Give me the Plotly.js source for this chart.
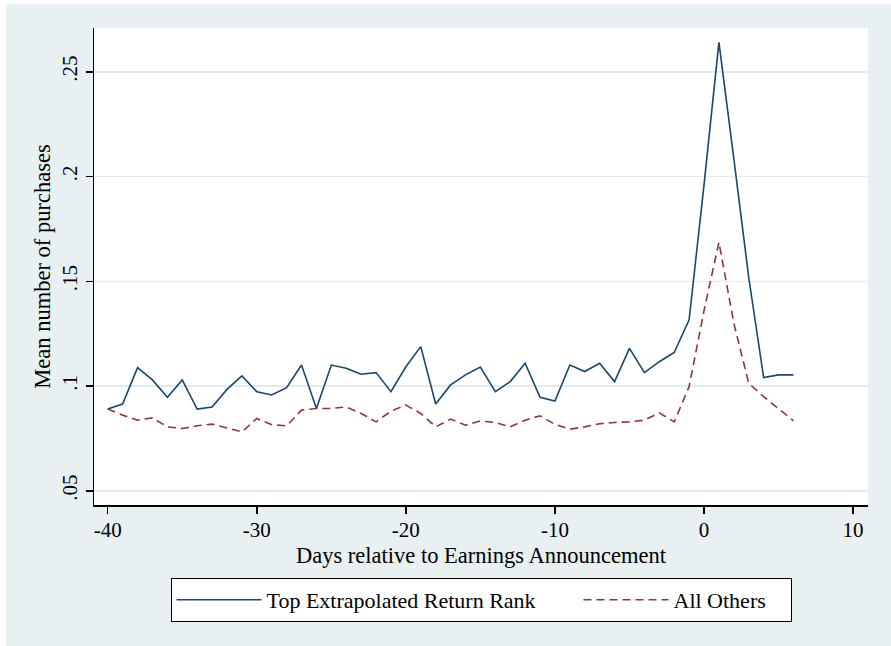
<!DOCTYPE html>
<html>
<head>
<meta charset="utf-8">
<script src="https://cdn.plot.ly/plotly-3.0.1.min.js"></script>
<style>
  html, body { margin: 0; padding: 0; background: #ffffff; }
  #chart { width: 891px; height: 646px; }
</style>
</head>
<body>
<div id="chart"></div>
<script>
const days = [-40,-39,-38,-37,-36,-35,-34,-33,-32,-31,-30,-29,-28,-27,-26,-25,-24,-23,-22,-21,-20,-19,-18,-17,-16,-15,-14,-13,-12,-11,-10,-9,-8,-7,-6,-5,-4,-3,-2,-1,0,1,2,3,4,5,6];

const topRank = [0.0890,0.0914,0.1088,0.1029,0.0946,0.1029,0.0890,0.0900,0.0984,0.1048,
                 0.0973,0.0957,0.0992,0.1100,0.0893,0.1100,0.1085,0.1056,0.1064,0.0973,
                 0.1092,0.1188,0.0914,0.1005,0.1053,0.1090,0.0973,0.1021,0.1109,0.0946,
                 0.0928,0.1100,0.1069,0.1109,0.1021,0.1180,0.1064,0.1116,0.1160,0.1316,
                 0.1960,0.2640,0.2085,0.1518,0.1040,0.1053,0.1053];

const allOthers = [0.0890,0.0861,0.0837,0.0848,0.0805,0.0797,0.0810,0.0818,0.0800,0.0781,
                   0.0845,0.0815,0.0810,0.0885,0.0893,0.0893,0.0900,0.0869,0.0829,0.0880,
                   0.0909,0.0869,0.0805,0.0842,0.0813,0.0833,0.0826,0.0805,0.0837,0.0858,
                   0.0817,0.0794,0.0805,0.0820,0.0826,0.0829,0.0837,0.0872,0.0829,0.0997,
                   0.1360,0.1686,0.1300,0.1013,0.0949,0.0893,0.0834];

const seriesNames = ['Top Extrapolated Return Rank', 'All Others'];
const xTitle = 'Days relative to Earnings Announcement';
const yTitle = 'Mean number of purchases';
const xTickVals = [-40,-30,-20,-10,0,10];
const xTickText = ['-40','-30','-20','-10','0','10'];
const yTickVals = [0.05,0.10,0.15,0.20,0.25];
const yTickText = ['.05','.1','.15','.2','.25'];

const FONT = 'Liberation Serif, Times New Roman, serif';
const BG = '#e8f0f2';
const GRID = '#e2ebee';

const traces = [
  {
    x: days, y: topRank, name: seriesNames[0], type: 'scatter', mode: 'lines',
    line: { color: '#1a476f', width: 1.6 }, legendwidth: 307
  },
  {
    x: days, y: allOthers, name: seriesNames[1], type: 'scatter', mode: 'lines',
    line: { color: '#90353b', width: 1.6, dash: '8px,5px' }, legendwidth: 112
  }
];

const layout = {
  width: 891, height: 646,
  margin: { l: 94, r: 23, t: 28, b: 141 },
  paper_bgcolor: '#ffffff',
  plot_bgcolor: '#ffffff',
  font: { family: FONT, size: 21, color: '#000000' },
  showlegend: true,
  legend: {
    orientation: 'h', xref: 'paper', x: 0.5, xanchor: 'center',
    yref: 'container', y: 0.1053, yanchor: 'top',
    bgcolor: '#ffffff', bordercolor: '#000000', borderwidth: 1,
    font: { family: FONT, size: 22, color: '#000000' },
    itemwidth: 85, traceorder: 'normal'
  },
  xaxis: {
    range: [-40.92, 11.0], tickvals: xTickVals, ticktext: xTickText,
    showgrid: false, zeroline: false,
    showline: true, linecolor: '#000000', linewidth: 1.5,
    ticks: 'outside', ticklen: 7, tickwidth: 1.5, tickcolor: '#000000',
    ticklabelstandoff: -2,
    tickfont: { family: FONT, size: 21, color: '#000000' },
    automargin: false, fixedrange: true
  },
  yaxis: {
    range: [0.0432, 0.2709], tickvals: yTickVals, ticktext: yTickText, tickangle: -90,
    showgrid: true, gridcolor: GRID, gridwidth: 1.5, zeroline: false,
    showline: true, linecolor: '#000000', linewidth: 1.5,
    ticks: 'outside', ticklen: 7, tickwidth: 1.5, tickcolor: '#000000',
    tickfont: { family: FONT, size: 21, color: '#000000' },
    title: { text: yTitle, font: { family: FONT, size: 22.5, color: '#000000' }, standoff: 1 },
    automargin: false, fixedrange: true
  },
  annotations: [
    { text: xTitle, xref: 'paper', yref: 'paper', x: 0.5, y: -0.1069,
      xanchor: 'center', yanchor: 'middle', showarrow: false,
      font: { family: FONT, size: 22.5, color: '#000000' } }
  ],
  shapes: [
    { type: 'rect', xref: 'paper', yref: 'paper', x0: -0.1137, x1: 1.1, y0: -0.35, y1: 1.0503,
      fillcolor: BG, line: { width: 0 }, layer: 'below' },
    { type: 'rect', xref: 'paper', yref: 'paper', x0: 0, x1: 1, y0: 0, y1: 1,
      fillcolor: '#ffffff', line: { width: 0 }, layer: 'below' }
  ]
};

Plotly.newPlot('chart', traces, layout, { displayModeBar: false, staticPlot: true });
</script>
</body>
</html>
